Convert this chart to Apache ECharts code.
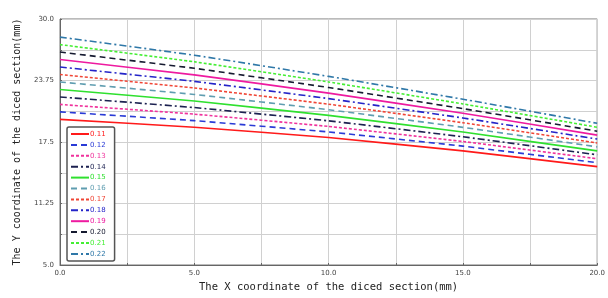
<!DOCTYPE html>
<html>
<head>
<meta charset="utf-8">
<script src="https://cdn.jsdelivr.net/npm/echarts@6/dist/echarts.min.js"></script>
<style>
html, body { margin: 0; padding: 0; background: #fff; }
#chart { width: 608px; height: 298px; }
</style>
</head>
<body>
<div id="chart"></div>
<script>
// x positions along the diced section (mm)
const xValues = [0, 5, 10, 15, 20];

// one curve per parameter value
const names = ['0.11', '0.12', '0.13', '0.14', '0.15', '0.16', '0.17', '0.18', '0.19', '0.20', '0.21', '0.22'];
const y011 = [19.80, 19.00, 17.95, 16.60, 15.00];
const y012 = [20.56, 19.67, 18.52, 17.08, 15.40];
const y013 = [21.32, 20.33, 19.08, 17.55, 15.80];
const y014 = [22.08, 21.00, 19.65, 18.03, 16.20];
const y015 = [22.84, 21.66, 20.21, 18.51, 16.60];
const y016 = [23.60, 22.33, 20.78, 18.99, 17.00];
const y017 = [24.36, 22.99, 21.34, 19.46, 17.40];
const y018 = [25.12, 23.66, 21.91, 19.94, 17.80];
const y019 = [25.88, 24.32, 22.47, 20.42, 18.20];
const y020 = [26.64, 24.99, 23.04, 20.89, 18.60];
const y021 = [27.40, 25.65, 23.60, 21.37, 19.00];
const y022 = [28.16, 26.32, 24.17, 21.85, 19.40];

const xTickLabels = ['0.0', '5.0', '10.0', '15.0', '20.0'];
const yTickLabels = ['5.0', '11.25', '17.5', '23.75', '30.0'];

const allY = [y011, y012, y013, y014, y015, y016, y017, y018, y019, y020, y021, y022];

// colours and dash styles of the curves
const colors = ['#ff1a1a', '#2a3bd6', '#f0329c', '#1c2150', '#2fe02f', '#5f9db0',
                '#f04535', '#2424c8', '#ee1aa0', '#161a30', '#44ee33', '#2f78a8'];
const dashDot = [7, 3, 2, 3];
const types = ['solid', [6, 4], [3, 2], dashDot, 'solid', [6, 4],
               [3, 2], dashDot, 'solid', [6, 4], [3, 2], dashDot];

const chart = echarts.init(document.getElementById('chart'));

const series = names.map((n, i) => ({
    name: n,
    type: 'line',
    symbol: 'none',
    smooth: 0.1,
    data: xValues.map((x, k) => [x, allY[i][k]]),
    lineStyle: { color: colors[i], width: 1.6, type: types[i] },
    itemStyle: { color: colors[i] }
}));

const option = {
    backgroundColor: '#fff',
    animation: false,
    grid: {
        left: 60, right: 6, top: 19, bottom: 33,
        show: true, borderColor: '#777', borderWidth: 1
    },
    legend: {
        orient: 'vertical',
        left: 67, top: 127,
        itemWidth: 18, itemHeight: 8, itemGap: 2.9,
        padding: [3, 9, 3, 3],
        borderColor: '#555', borderWidth: 1.5, borderRadius: 2,
        backgroundColor: '#fff',
        itemStyle: { color: 'transparent', borderWidth: 0 },
        textStyle: { fontSize: 7, fontFamily: 'DejaVu Sans', padding: [0, 0, 0, -4], lineHeight: 8 },
        data: names.map((n, i) => ({ name: n, textStyle: { color: colors[i] } }))
    },
    xAxis: {
        type: 'value', min: 0, max: 20, interval: 5,
        name: 'The X coordinate of the diced section(mm)',
        nameLocation: 'middle', nameGap: 13,
        nameTextStyle: { fontFamily: 'DejaVu Sans Mono', fontSize: 10.5, color: '#222' },
        axisLine: { lineStyle: { color: '#666' } },
        axisTick: { show: true, inside: true, length: 2, lineStyle: { color: '#666' } },
        minorTick: { show: true, splitNumber: 2, length: 2, lineStyle: { color: '#666' } },
        axisLabel: {
            fontSize: 7, color: '#444', margin: 5, fontFamily: 'DejaVu Sans',
            formatter: (v, idx) => xTickLabels[idx]
        },
        splitLine: { lineStyle: { color: '#d0d0d0' } },
        minorSplitLine: { show: true, lineStyle: { color: '#d0d0d0' } }
    },
    yAxis: {
        type: 'value', min: 5, max: 30, interval: 6.25,
        name: 'The Y coordinate of the diced section(mm)',
        nameLocation: 'middle', nameGap: 38, nameRotate: 90,
        nameTextStyle: { fontFamily: 'DejaVu Sans Mono', fontSize: 10, color: '#222' },
        axisLine: { show: true, lineStyle: { color: '#666' } },
        axisTick: { show: true, inside: true, length: 2, lineStyle: { color: '#666' } },
        minorTick: { show: true, splitNumber: 2, length: 2, lineStyle: { color: '#666' } },
        axisLabel: {
            fontSize: 7, color: '#444', margin: 6, fontFamily: 'DejaVu Sans',
            formatter: (v, idx) => yTickLabels[idx]
        },
        splitLine: { lineStyle: { color: '#d0d0d0' } },
        minorSplitLine: { show: true, lineStyle: { color: '#d0d0d0' } }
    },
    series: series
};

chart.setOption(option);
</script>
</body>
</html>
